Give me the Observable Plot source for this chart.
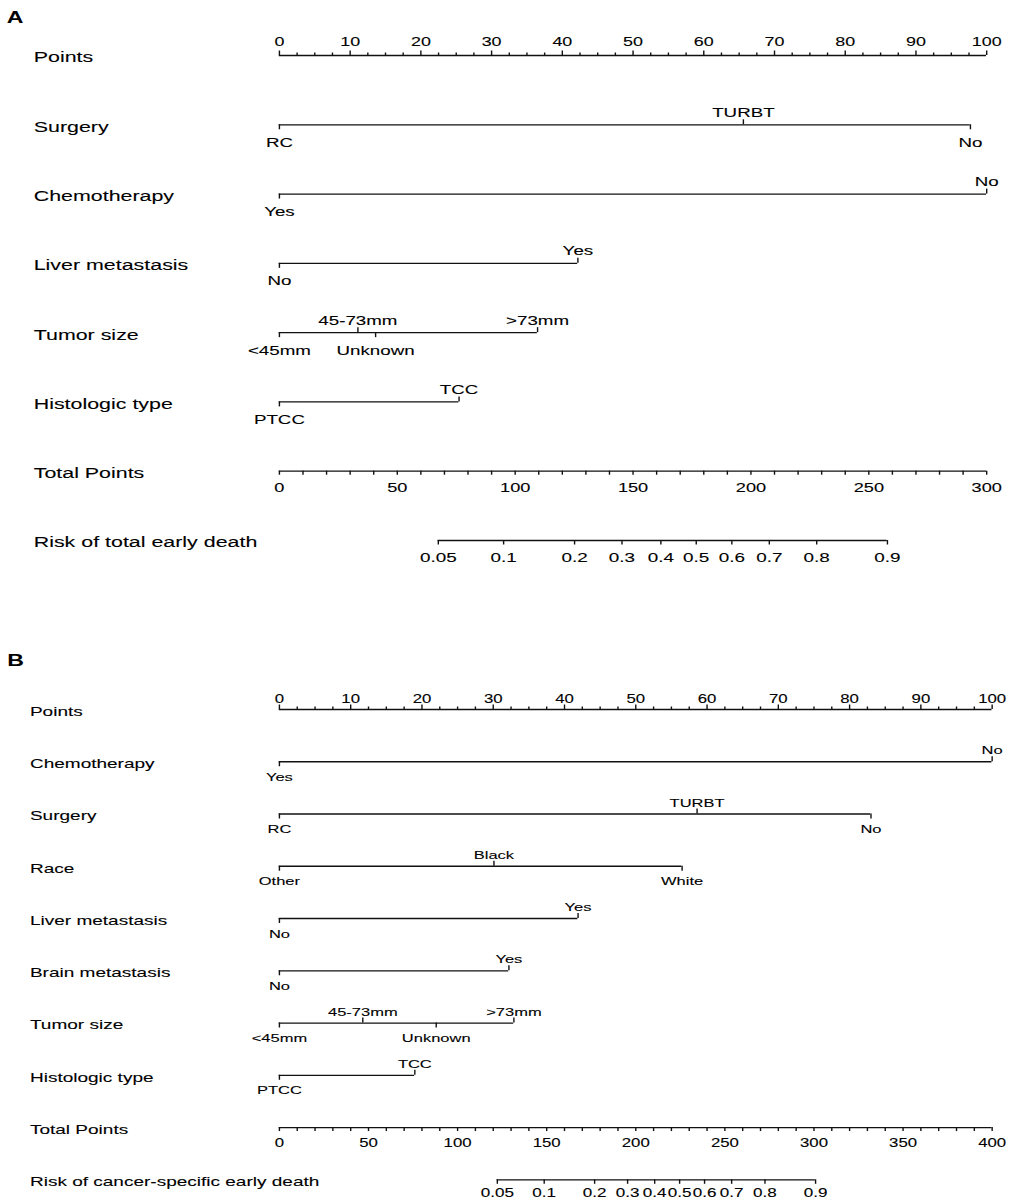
<!DOCTYPE html>
<html><head><meta charset="utf-8">
<script src="https://cdn.jsdelivr.net/npm/d3@7"></script>
<script src="https://cdn.jsdelivr.net/npm/@observablehq/plot@0.6"></script>
<style>
html,body{margin:0;padding:0;background:#fff;width:1013px;height:1203px;overflow:hidden;}
#wrap{position:absolute;left:0;top:0;width:724px;height:1203px;transform-origin:0 0;transform:scaleX(1.39917);font-family:"Liberation Sans",Arial,sans-serif;color:#000;}
.letter{position:absolute;font-weight:bold;font-size:16.5px;line-height:16px;}
.panel{position:absolute;left:0;width:724px;}
</style></head><body>
<div id="wrap">
  <div class="panel" id="pa" style="top:0"></div>
  <div class="panel" id="pb" style="top:600px"></div>
  <div class="letter" style="left:4.8px;top:9px">A</div>
  <div class="letter" style="left:5.2px;top:652px">B</div>
</div>
<script>
// ---------- shared axis labels ----------
const pointsTicks = [0, 10, 20, 30, 40, 50, 60, 70, 80, 90, 100];
const riskLabels = ["0.05", "0.1", "0.2", "0.3", "0.4", "0.5", "0.6", "0.7", "0.8", "0.9"];

// ---------- Panel A ----------
const rowsA = ["Points", "Surgery", "Chemotherapy", "Liver metastasis", "Tumor size", "Histologic type", "Total Points", "Risk of total early death"];
const surgeryA = {row: "Surgery", levels: ["RC", "TURBT", "No"], points: [0, 65.6, 97.7]};
const chemoA = {row: "Chemotherapy", levels: ["Yes", "No"], points: [0, 100]};
const liverA = {row: "Liver metastasis", levels: ["No", "Yes"], points: [0, 42.2]};
const tumorA = {row: "Tumor size", levels: ["<45mm", "45-73mm", "Unknown", ">73mm"], points: [0, 11.1, 13.6, 36.5]};
const histA = {row: "Histologic type", levels: ["PTCC", "TCC"], points: [0, 25.4]};
const totalMaxA = 300;
const totalTicksA = [0, 50, 100, 150, 200, 250, 300];
const riskPointsA = [67.4, 95.1, 125.2, 145.3, 161.8, 176.8, 191.9, 207.8, 227.9, 257.9];

// ---------- Panel B ----------
const rowsB = ["Points", "Chemotherapy", "Surgery", "Race", "Liver metastasis", "Brain metastasis", "Tumor size", "Histologic type", "Total Points", "Risk of cancer-specific early death"];
const chemoB = {row: "Chemotherapy", levels: ["Yes", "No"], points: [0, 100]};
const surgeryB = {row: "Surgery", levels: ["RC", "TURBT", "No"], points: [0, 58.6, 83.0]};
const raceB = {row: "Race", levels: ["Other", "Black", "White"], points: [0, 30.1, 56.5]};
const liverB = {row: "Liver metastasis", levels: ["No", "Yes"], points: [0, 41.9]};
const brainB = {row: "Brain metastasis", levels: ["No", "Yes"], points: [0, 32.2]};
const tumorB = {row: "Tumor size", levels: ["<45mm", "45-73mm", "Unknown", ">73mm"], points: [0, 11.7, 22.0, 32.9]};
const histB = {row: "Histologic type", levels: ["PTCC", "TCC"], points: [0, 19.0]};
const totalMaxB = 400;
const totalTicksB = [0, 50, 100, 150, 200, 250, 300, 350, 400];
const riskPointsB = [122.3, 148.6, 176.9, 195.4, 210.6, 224.6, 238.6, 253.8, 272.5, 300.9];

const FONT = "Liberation Sans, Arial, Helvetica, sans-serif";
const INK = "#111";

function drawPanel(cfg) {
  const n = cfg.rows.length;
  const sp = (cfg.yRange[1] - cfg.yRange[0]) / (n - 1);
  const u = px => px / sp;
  const rowIdx = name => cfg.rows.indexOf(name);
  const tRow = rowIdx("Total Points"), rRow = n - 1, pRow = 0;
  const toPts = v => v * 100 / cfg.totalMax;

  const lines = [{y: pRow, x1: 0, x2: 100}];
  const ticks = [];
  const above = [], below = [];

  // points axis
  const minor = d3.range(0, 100.001, 2.5).filter(v => !pointsTicks.includes(v));
  pointsTicks.forEach(v => ticks.push({x: v, y1: pRow, y2: pRow - u(4.5)}));
  minor.forEach(v => ticks.push({x: v, y1: pRow, y2: pRow - u(2.5)}));
  const pointsLab = pointsTicks.map(v => ({x: v, y: pRow, text: String(v)}));

  // categorical variables
  cfg.vars.forEach(v => {
    const r = rowIdx(v.row);
    const order = d3.sort(d3.range(v.levels.length), i => v.points[i]);
    lines.push({y: r, x1: d3.min(v.points), x2: d3.max(v.points)});
    order.forEach((i, k) => {
      const up = k % 2 === 1;
      ticks.push({x: v.points[i], y1: r, y2: r + (up ? -1 : 1) * u(5)});
      (up ? above : below).push({x: v.points[i], y: r, text: v.levels[i]});
    });
  });

  // total points
  lines.push({y: tRow, x1: 0, x2: 100});
  d3.range(0, cfg.totalMax + 0.001, 10).forEach(t => ticks.push({x: toPts(t), y1: tRow, y2: tRow + u(4)}));
  const totalLab = cfg.totalTicks.map(t => ({x: toPts(t), y: tRow, text: String(t)}));

  // risk
  lines.push({y: rRow, x1: toPts(cfg.riskPoints[0]), x2: toPts(cfg.riskPoints[cfg.riskPoints.length - 1])});
  cfg.riskPoints.forEach(t => ticks.push({x: toPts(t), y1: rRow, y2: rRow + u(4.5)}));
  const riskLab = cfg.riskPoints.map((t, i) => ({x: toPts(t), y: rRow, text: riskLabels[i]}));

  const f = cfg.fonts;
  const o = cfg.offsets;
  const ts = {fill: "#000", stroke: "#000", strokeWidth: 0.1};
  return Plot.plot({
    width: 724,
    height: cfg.height,
    marginLeft: cfg.xRange[0],
    marginRight: 724 - cfg.xRange[1],
    marginTop: cfg.yRange[0],
    marginBottom: cfg.height - cfg.yRange[1],
    style: {fontFamily: FONT, background: "transparent", overflow: "visible", color: "#000"},
    x: {domain: [0, 100], range: cfg.xRange, axis: null},
    y: {domain: [0, n - 1], range: cfg.yRange, axis: null},
    marks: [
      Plot.ruleY(lines, {y: "y", x1: "x1", x2: "x2", stroke: INK, strokeWidth: 1.3}),
      Plot.ruleX(ticks, {x: "x", y1: "y1", y2: "y2", stroke: INK, strokeWidth: 1}),
      Plot.text(cfg.rows, {frameAnchor: "left", y: (d, i) => i, text: d => d, textAnchor: "start", dx: o.rowDx, dy: 2, fontSize: f.row, ...ts}),
      Plot.text(pointsLab, {x: "x", y: "y", text: "text", dy: o.pts, fontSize: f.pts, ...ts}),
      Plot.text(above, {x: "x", y: "y", text: "text", dy: o.above, fontSize: f.cat, ...ts}),
      Plot.text(below, {x: "x", y: "y", text: "text", dy: o.below, fontSize: f.cat, ...ts}),
      Plot.text(totalLab, {x: "x", y: "y", text: "text", dy: o.total, fontSize: f.total, ...ts}),
      Plot.text(riskLab, {x: "x", y: "y", text: "text", dy: o.risk, fontSize: f.risk, ...ts})
    ]
  });
}

document.getElementById("pa").appendChild(drawPanel({
  rows: rowsA,
  vars: [surgeryA, chemoA, liverA, tumorA, histA],
  totalMax: totalMaxA, totalTicks: totalTicksA, riskPoints: riskPointsA,
  height: 600, xRange: [199.2, 704.7], yRange: [55, 540],
  fonts: {row: 15.3, cat: 13.4, pts: 12.8, total: 13, risk: 13.5},
  offsets: {rowDx: -175.6, pts: -13.1, above: -12.3, below: 17.7, total: 16.5, risk: 16.7}
}));

document.getElementById("pb").appendChild(drawPanel({
  rows: rowsB,
  vars: [chemoB, surgeryB, raceB, liverB, brainB, tumorB, histB],
  totalMax: totalMaxB, totalTicks: totalTicksB, riskPoints: riskPointsB,
  height: 603, xRange: [199.2, 708.6], yRange: [109, 579.3],
  fonts: {row: 13.6, cat: 11.8, pts: 12, total: 12, risk: 12.2},
  offsets: {rowDx: -178.3, pts: -10.5, above: -11.2, below: 15.3, total: 15.2, risk: 13.5}
}));
</script>
</body></html>
